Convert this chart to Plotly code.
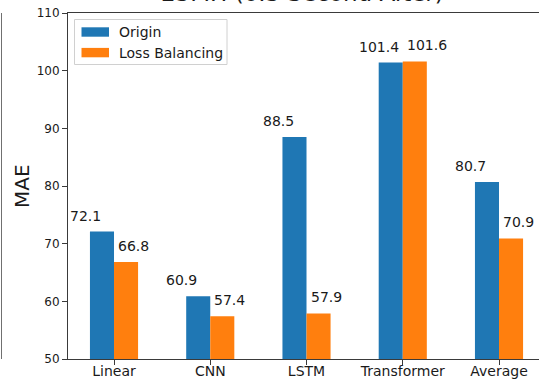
import plotly.graph_objects as go

# MAE per model, 0.5 s ahead
models = ["Linear", "CNN", "LSTM", "Transformer", "Average"]
origin = [72.1, 60.9, 88.5, 101.4, 80.7]
loss_balancing = [66.8, 57.4, 57.9, 101.6, 70.9]
y_ticks = [50, 60, 70, 80, 90, 100, 110]

title_text = "25MH (0.5 Second After)"
series_names = ["Origin", "Loss Balancing"]
colors = ["#1f77b4", "#ff7f0e"]

W, H = 539, 379
L, R, T, B = 68, 0, 13, 20
PW, PH = W - L - R, H - T - B
FONT = "DejaVu Sans"
INK = "#1a1a1a"
SPINE = "#3a3a3a"


def px_x(px):
    return (px - L) / PW


def px_y(py):
    return (H - B - py) / PH


fig = go.Figure()
for name, vals, col in zip(series_names, [origin, loss_balancing], colors):
    fig.add_trace(go.Bar(x=models, y=vals, name=name, marker=dict(color=col, line=dict(width=0)),
                         showlegend=False))

annotations = []
# value labels above each bar
for vals, xs in [(origin, -46), (loss_balancing, 2)]:
    for m, v in zip(models, vals):
        annotations.append(dict(x=m, y=v, xref="x", yref="y", text=f"{v:.1f}", showarrow=False,
                                xanchor="left", yanchor="middle", xshift=xs, yshift=16,
                                font=dict(family=FONT, size=14, color=INK)))

# title (partly above the page edge)
annotations.append(dict(x=0.497, y=px_y(8), xref="paper", yref="paper", text=title_text,
                        showarrow=False, xanchor="center", yanchor="bottom",
                        font=dict(family=FONT, size=23, color=INK)))
# y axis title
annotations.append(dict(x=px_x(22), y=0.5, xref="paper", yref="paper", text="MAE", textangle=-90,
                        showarrow=False, xanchor="center", yanchor="middle",
                        font=dict(family=FONT, size=20, color=INK)))

shapes = []
# legend frame and entries
shapes.append(dict(type="rect", xref="paper", yref="paper", x0=px_x(74.5), x1=px_x(227),
                   y0=px_y(64.5), y1=px_y(19.5), line=dict(color="#d0d0d0", width=1),
                   fillcolor="rgba(255,255,255,0.8)", layer="above"))
for i, (name, col) in enumerate(zip(series_names, colors)):
    cy = 32 + i * 20.6
    shapes.append(dict(type="rect", xref="paper", yref="paper", x0=px_x(81.5), x1=px_x(109),
                       y0=px_y(cy + 4.7), y1=px_y(cy - 4.7), line=dict(width=0), fillcolor=col,
                       layer="above"))
    annotations.append(dict(x=px_x(117), y=px_y(cy), xref="paper", yref="paper", text=name,
                            showarrow=False, xanchor="left", yanchor="middle",
                            font=dict(family=FONT, size=14, color=INK)))

# edge of the neighbouring panel on the left
shapes.append(dict(type="line", xref="paper", yref="paper", x0=px_x(1.5), x1=px_x(1.5),
                   y0=0, y1=1, line=dict(color="#707070", width=1)))

fig.update_layout(
    width=W, height=H, margin=dict(l=L, r=R, t=T, b=B, pad=0, autoexpand=False),
    paper_bgcolor="white", plot_bgcolor="white",
    barmode="group", bargap=0.5, bargroupgap=0,
    annotations=annotations, shapes=shapes, showlegend=False,
    xaxis=dict(range=[-0.478, -0.478 + PW / 96.25], showline=True, mirror=True, linecolor=SPINE,
               linewidth=1, ticks="outside", ticklen=5, tickcolor=SPINE, showgrid=False,
               zeroline=False, automargin=False, ticklabelstandoff=-6,
               tickfont=dict(family=FONT, size=14, color=INK)),
    yaxis=dict(range=[50, 110], tickvals=y_ticks, showline=True, mirror=False, linecolor=SPINE,
               linewidth=1, ticks="outside", ticklen=5, tickcolor=SPINE, showgrid=False,
               zeroline=False, automargin=False,
               tickfont=dict(family=FONT, size=12, color=INK)),
)

fig.write_html("out.html")
